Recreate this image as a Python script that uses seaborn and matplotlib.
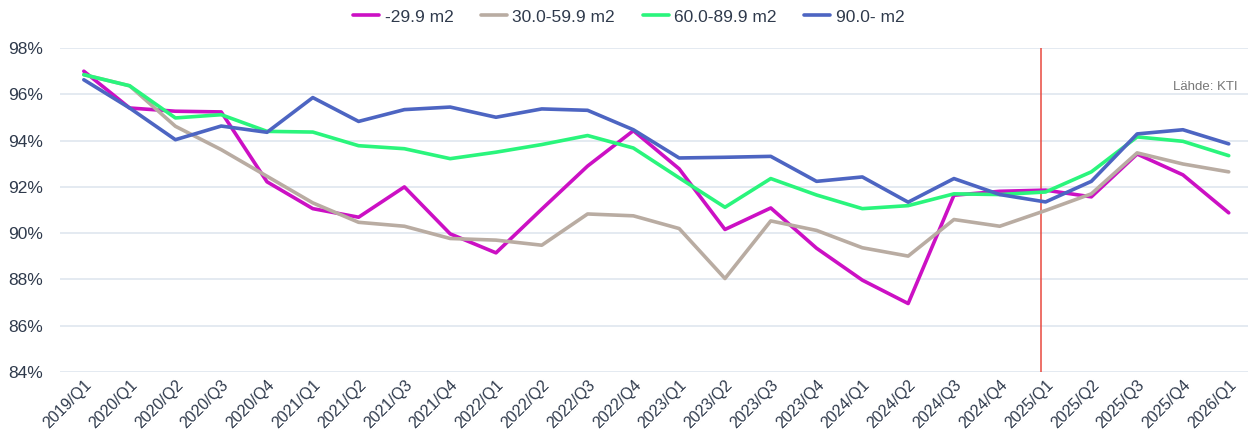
import pandas as pd
import matplotlib
matplotlib.use("Agg")
import matplotlib.pyplot as plt
import seaborn as sns
from matplotlib.ticker import FuncFormatter

# Quarters on the x axis
quarters = ["2019/Q1", "2020/Q1", "2020/Q2", "2020/Q3", "2020/Q4",
            "2021/Q1", "2021/Q2", "2021/Q3", "2021/Q4",
            "2022/Q1", "2022/Q2", "2022/Q3", "2022/Q4",
            "2023/Q1", "2023/Q2", "2023/Q3", "2023/Q4",
            "2024/Q1", "2024/Q2", "2024/Q3", "2024/Q4",
            "2025/Q1", "2025/Q2", "2025/Q3", "2025/Q4", "2026/Q1"]

# Values per size class (%)
small = [97.0, 95.41, 95.27, 95.24, 92.22, 91.06, 90.69, 92.0, 89.97, 89.15,
         91.04, 92.9, 94.43, 92.78, 90.16, 91.09, 89.35, 87.97, 86.96, 91.64,
         91.81, 91.86, 91.57, 93.42, 92.52, 90.88]
mid_small = [96.85, 96.37, 94.62, 93.61, 92.46, 91.31, 90.47, 90.3, 89.77, 89.7,
             89.48, 90.83, 90.75, 90.2, 88.04, 90.53, 90.12, 89.37, 89.01, 90.59,
             90.3, 90.98, 91.7, 93.47, 92.99, 92.65]
mid_large = [96.85, 96.37, 94.98, 95.12, 94.4, 94.37, 93.78, 93.65, 93.22, 93.5,
             93.83, 94.22, 93.68, 92.39, 91.12, 92.36, 91.65, 91.06, 91.19, 91.7,
             91.67, 91.78, 92.65, 94.16, 93.97, 93.35]
large = [96.63, 95.41, 94.04, 94.63, 94.36, 95.86, 94.83, 95.34, 95.45, 95.01,
         95.37, 95.31, 94.47, 93.25, 93.28, 93.32, 92.24, 92.43, 91.34, 92.36,
         91.67, 91.35, 92.24, 94.29, 94.47, 93.86]

series_names = ["-29.9 m2", "30.0-59.9 m2", "60.0-89.9 m2", "90.0- m2"]
colors = ["#cc10c4", "#b9aca2", "#2af57c", "#4d65c2"]

rows = []
for name, vals in zip(series_names, [small, mid_small, mid_large, large]):
    for i, (q, v) in enumerate(zip(quarters, vals)):
        rows.append({"idx": i, "quarter": q, "value": v, "size": name})
df = pd.DataFrame(rows)

sns.set_style("white")
plt.rcParams["font.family"] = ["Liberation Sans", "DejaVu Sans"]

fig = plt.figure(figsize=(12.5, 4.45), dpi=100)
ax = fig.add_axes([0.048, 0.164, 0.95, 0.728])

sns.lineplot(data=df, x="idx", y="value", hue="size", palette=colors,
             hue_order=series_names, linewidth=2.6, ax=ax)

# forecast marker line
ax.axvline(20.9, color="#e8493f", linewidth=1.1, zorder=1)

ax.set_xlim(-0.52, 25.41)
ax.set_ylim(84, 98)
ax.set_yticks(range(84, 99, 2))
ax.yaxis.set_major_formatter(FuncFormatter(lambda v, p: f"{v:.0f}%"))
ax.set_xticks(range(len(quarters)))
ax.set_xticklabels(quarters, rotation=45, ha="right", rotation_mode="anchor")
ax.tick_params(axis="y", labelsize=12.5, colors="#2f3a4c", length=0, pad=12)
ax.tick_params(axis="x", labelsize=11.5, colors="#2f3a4c", length=0, pad=4)
ax.grid(axis="y", color="#dfe6ef", linewidth=1.2)
ax.set_axisbelow(True)
for s in ax.spines.values():
    s.set_visible(False)
ax.set_xlabel("")
ax.set_ylabel("")

ax.text(0.992, 0.88, "Lähde: KTI", transform=ax.transAxes, ha="right",
        va="center", fontsize=9.5, color="#777777")

handles, labels = ax.get_legend_handles_labels()
ax.legend_.remove()
fig.legend(handles, labels, loc="upper center", bbox_to_anchor=(0.503, 1.014),
           ncol=4, frameon=False, fontsize=12.5, handlelength=1.5,
           handletextpad=0.3, columnspacing=1.6, labelcolor="#2f3a4c")

fig.savefig("out.png", dpi=100)
